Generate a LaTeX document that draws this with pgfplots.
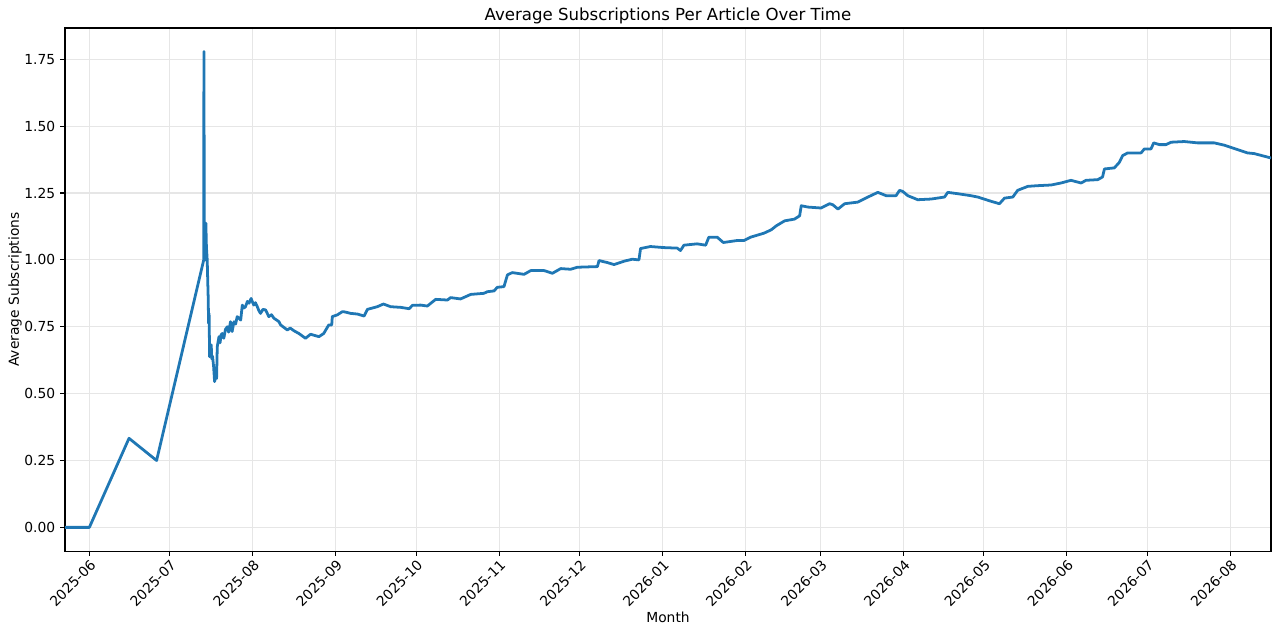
\documentclass[border=0pt]{standalone}
\usepackage{pgfplots}
\pgfplotsset{compat=1.18}
\usepackage{fontspec}
\setmainfont{DejaVu Sans}
\definecolor{mplblue}{HTML}{1F77B4}
\definecolor{gridc}{HTML}{E6E6E6}
\begin{document}
\begin{tikzpicture}
\begin{axis}[
  name=ax,
  scale only axis,
  width=868.3bp, height=376.6bp,
  xmin=-9.1, xmax=441.2,
  ymin=-0.0886, ymax=1.867,
  axis line style={line width=0.8bp},
  tick style={line width=0.8bp, black},
  major tick length=3.5bp,
  tick align=outside,
  xtick pos=bottom, ytick pos=left,
  grid=major,
  major grid style={line width=0.8bp, gridc},
  xtick={0,30,61,92,122,153,183,214,245,273,304,334,365,395,426},
  xticklabels={2025-06,2025-07,2025-08,2025-09,2025-10,2025-11,2025-12,2026-01,2026-02,2026-03,2026-04,2026-05,2026-06,2026-07,2026-08},
  xticklabel style={rotate=45, anchor=north east, font=\fontsize{10}{12}\selectfont, inner sep=1.5bp},
  ytick={0,0.25,0.5,0.75,1,1.25,1.5,1.75},
  yticklabel style={font=\fontsize{10}{12}\selectfont, /pgf/number format/fixed, /pgf/number format/fixed zerofill, /pgf/number format/precision=2},
  /pgf/number format/assume math mode=true,
  title={Average Subscriptions Per Article Over Time},
  every axis title/.style={at={(axis description cs:0.5,1)}, anchor=base, yshift=5.3bp, font=\fontsize{12}{14}\selectfont},
  xlabel={Month},
  ylabel={Average Subscriptions},
  every axis x label/.style={at={(axis description cs:0.5,0)}, anchor=center, yshift=-47.5bp, font=\fontsize{10}{12}\selectfont},
  every axis y label/.style={at={(axis description cs:-0.0415,0.5)}, rotate=90, anchor=center, font=\fontsize{10}{12}\selectfont},
]
\addplot[mplblue, line width=2bp, line join=round] coordinates {
(-9.1,0) (0,0) (14.8,0.333) (25.1,0.25) (42.7,1.0) (42.75,1.60) (42.8,1.779) (42.85,1.40) (42.9,1.0)
(43.1,1.05) (43.3,1.0) (43.5,1.137) (43.7,1.05) (44.0,1.0) (44.2,0.92) (44.39,0.85) (44.5,0.763)
(44.7,0.80) (44.9,0.638) (45.2,0.68) (45.5,0.682) (45.7,0.63) (46.0,0.64) (46.4,0.60) (46.75,0.545)
(47.1,0.56) (47.5,0.557) (47.75,0.675) (48.0,0.69) (48.4,0.713) (48.8,0.69) (49.2,0.72) (49.6,0.725)
(50.2,0.707) (50.8,0.74) (51.5,0.75) (52.0,0.73) (52.7,0.769) (53.3,0.732) (54.0,0.769) (54.6,0.76)
(55.2,0.788) (56.5,0.775) (57.1,0.831) (57.7,0.82) (58.3,0.825) (59.0,0.845) (59.6,0.838) (60.4,0.856)
(61.0,0.84) (61.4,0.831) (62.0,0.84) (62.7,0.825) (63.3,0.81) (63.9,0.80) (64.8,0.815) (65.8,0.813)
(67.0,0.788) (68.0,0.795) (68.9,0.782) (70.8,0.769) (71.4,0.757) (73.9,0.738) (75.0,0.745) (76.4,0.735)
(78.2,0.725) (80.7,0.707) (82.6,0.722) (85.7,0.713) (87.5,0.725) (89.4,0.757) (90.5,0.757) (90.7,0.788)
(92.5,0.794) (94.4,0.806) (95.1,0.806) (97.6,0.80) (100.1,0.7975) (102.6,0.79) (103.8,0.815) (107.5,0.825)
(109.8,0.835) (112.5,0.825) (116.3,0.8225) (119.4,0.8175) (120.6,0.83) (123.7,0.831) (126.2,0.8275)
(129.3,0.8525) (133.7,0.85) (134.9,0.859) (138.6,0.854) (142.4,0.871) (147.3,0.875) (148.6,0.881)
(151.1,0.884) (152.3,0.8975) (154.8,0.90) (156.1,0.944) (157.9,0.9525) (162.3,0.946) (164.8,0.96)
(169.8,0.96) (172.9,0.95) (176.0,0.9675) (179.7,0.965) (182.2,0.9725) (189.7,0.975) (190.3,0.9975)
(193.4,0.99) (195.9,0.9825) (199.6,0.995) (202.7,1.0025) (205.2,1.0) (205.8,1.0425) (209.5,1.05)
(214.5,1.046) (219.5,1.044) (220.7,1.035) (222.0,1.055) (226.9,1.06) (230.1,1.055) (231.3,1.085)
(234.4,1.085) (236.7,1.065) (241.9,1.0725) (244.4,1.0725) (246.9,1.085) (251.9,1.10) (254.6,1.1125)
(256.5,1.1275) (259.6,1.146) (263.3,1.1525) (265.2,1.165) (265.8,1.2025) (268.3,1.1975) (273.2,1.194)
(276.4,1.21) (277.6,1.206) (279.5,1.19) (282.0,1.21) (286.9,1.216) (290.7,1.235) (294.4,1.2525)
(297.5,1.24) (301.2,1.24) (302.5,1.26) (303.7,1.256) (305.6,1.24) (309.3,1.225) (314.3,1.2275)
(319.3,1.235) (320.5,1.2525) (324.2,1.2475) (329.2,1.24) (331.7,1.235) (336.7,1.219) (339.8,1.21)
(341.7,1.231) (344.8,1.235) (346.6,1.26) (350.4,1.275) (354.1,1.2775) (359.1,1.28) (362.8,1.2875)
(366.5,1.2975) (370.3,1.2875) (372.1,1.2975) (376.5,1.30) (378.3,1.31) (379.0,1.34) (382.7,1.344)
(384.6,1.365) (385.8,1.39) (387.7,1.40) (392.7,1.40) (393.9,1.415) (396.4,1.415) (397.4,1.4375)
(399.5,1.431) (402.0,1.431) (403.9,1.44) (408.8,1.4425) (413.8,1.4375) (420.0,1.4375) (423.7,1.429)
(428.7,1.4125) (432.4,1.40) (434.9,1.3975) (441.2,1.381)
};
\end{axis}
\pgfresetboundingbox
\path ([xshift=-46.8bp,yshift=-59.76bp]ax.south west) rectangle ([xshift=6.48bp,yshift=20.16bp]ax.north east);
\end{tikzpicture}
\end{document}
